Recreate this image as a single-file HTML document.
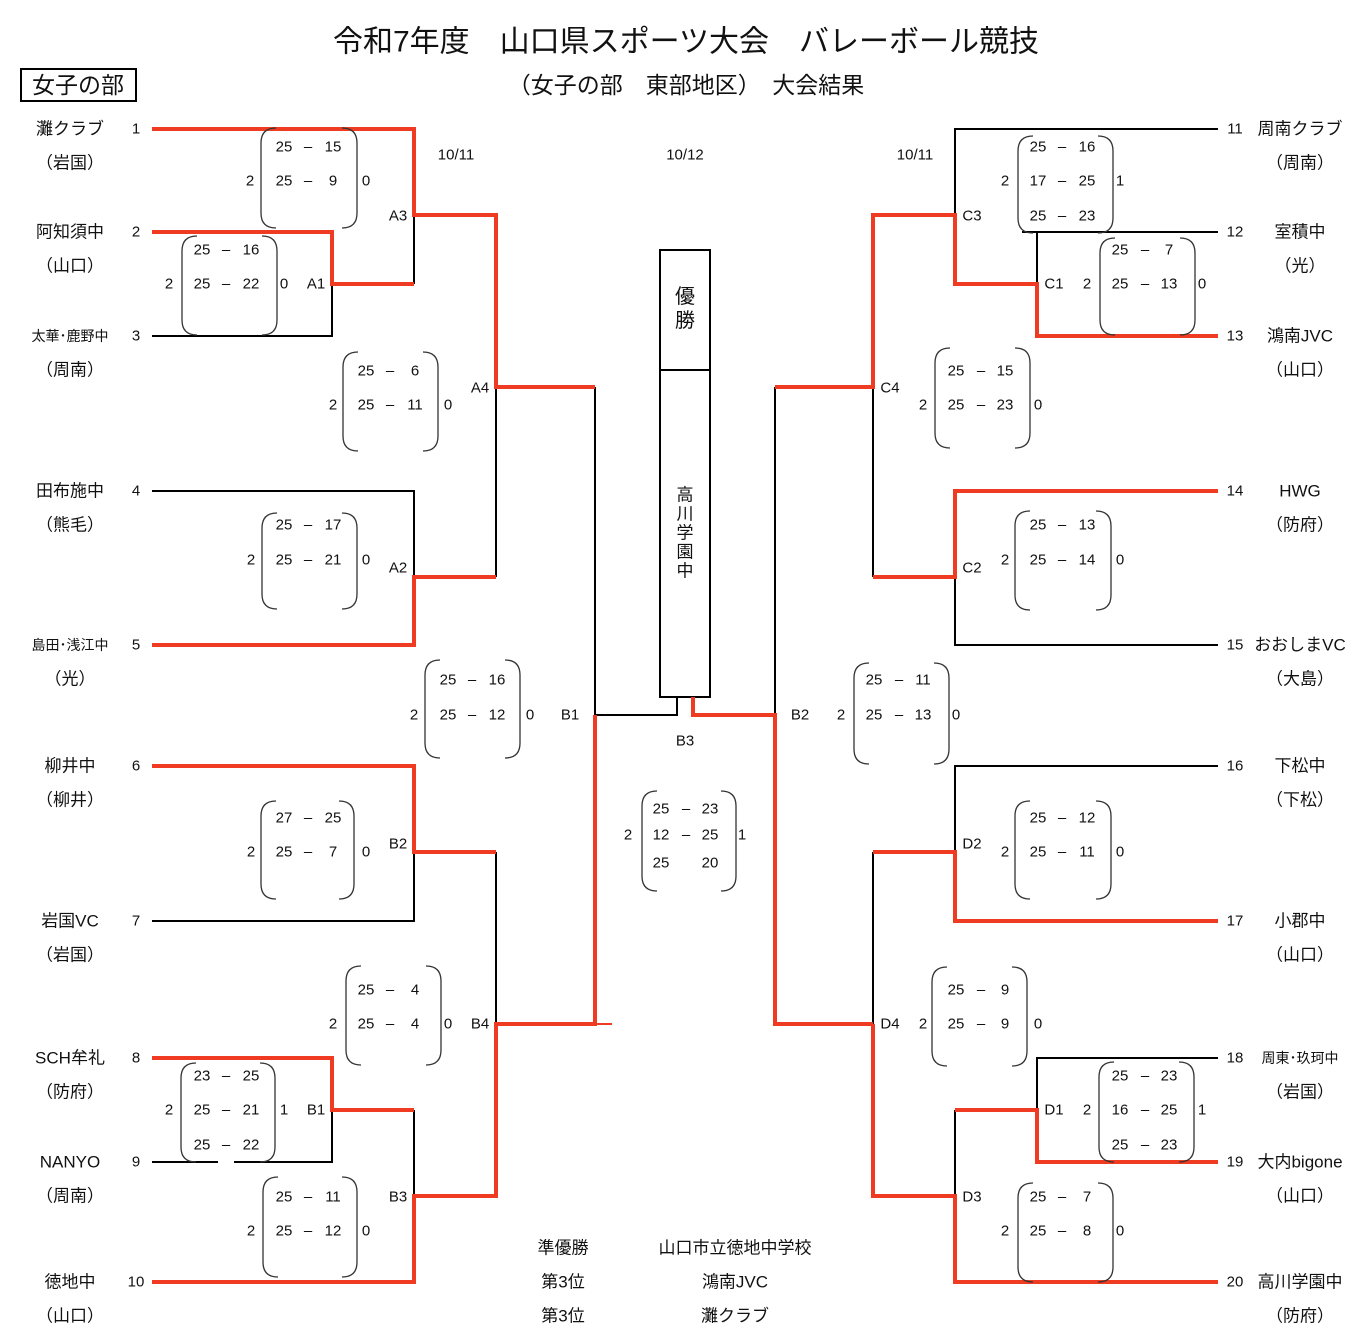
<!DOCTYPE html>
<html><head><meta charset="utf-8"><style>
body{margin:0;background:#fff}
svg{display:block}
text{font-family:"Liberation Sans","Noto Sans CJK JP",sans-serif;fill:#111;dominant-baseline:central;text-anchor:middle}
.s{font-size:15px}
.n{font-size:17px}
.r{fill:none;stroke:#ee3b22;stroke-width:4}
.b{fill:none;stroke:#000;stroke-width:2}
.p{fill:none;stroke:#333;stroke-width:1.3}
</style></head><body>
<svg width="1372" height="1341" viewBox="0 0 1372 1341" xmlns="http://www.w3.org/2000/svg">
<text x="686" y="42" style="font-size:30px">令和7年度　山口県スポーツ大会　バレーボール競技</text>
<text x="686" y="85" style="font-size:23px">（女子の部　東部地区）　大会結果</text>
<rect x="21" y="69" width="115" height="32" fill="none" stroke="#000" stroke-width="2"/>
<text x="78" y="85" style="font-size:23px">女子の部</text>
<text x="456" y="155" class="s">10/11</text>
<text x="685" y="155" class="s">10/12</text>
<text x="915" y="155" class="s">10/11</text>

<!-- left teams -->
<g class="n">
<text x="70" y="129">灘クラブ</text><text x="70" y="163">（岩国）</text><text x="136" y="129" class="s">1</text>
<text x="70" y="232">阿知須中</text><text x="70" y="266">（山口）</text><text x="136" y="232" class="s">2</text>
<text x="70" y="336" style="font-size:14px">太華･鹿野中</text><text x="70" y="370">（周南）</text><text x="136" y="336" class="s">3</text>
<text x="70" y="491">田布施中</text><text x="70" y="525">（熊毛）</text><text x="136" y="491" class="s">4</text>
<text x="70" y="645" style="font-size:14px">島田･浅江中</text><text x="70" y="679">（光）</text><text x="136" y="645" class="s">5</text>
<text x="70" y="766">柳井中</text><text x="70" y="800">（柳井）</text><text x="136" y="766" class="s">6</text>
<text x="70" y="921">岩国VC</text><text x="70" y="955">（岩国）</text><text x="136" y="921" class="s">7</text>
<text x="70" y="1058">SCH牟礼</text><text x="70" y="1092">（防府）</text><text x="136" y="1058" class="s">8</text>
<text x="70" y="1162">NANYO</text><text x="70" y="1196">（周南）</text><text x="136" y="1162" class="s">9</text>
<text x="70" y="1282">徳地中</text><text x="70" y="1316">（山口）</text><text x="136" y="1282" class="s">10</text>
</g>
<!-- right teams -->
<g class="n">
<text x="1235" y="129" class="s">11</text><text x="1300" y="129">周南クラブ</text><text x="1300" y="163">（周南）</text>
<text x="1235" y="232" class="s">12</text><text x="1300" y="232">室積中</text><text x="1300" y="266">（光）</text>
<text x="1235" y="336" class="s">13</text><text x="1300" y="336">鴻南JVC</text><text x="1300" y="370">（山口）</text>
<text x="1235" y="491" class="s">14</text><text x="1300" y="491">HWG</text><text x="1300" y="525">（防府）</text>
<text x="1235" y="645" class="s">15</text><text x="1300" y="645">おおしまVC</text><text x="1300" y="679">（大島）</text>
<text x="1235" y="766" class="s">16</text><text x="1300" y="766">下松中</text><text x="1300" y="800">（下松）</text>
<text x="1235" y="921" class="s">17</text><text x="1300" y="921">小郡中</text><text x="1300" y="955">（山口）</text>
<text x="1235" y="1058" class="s">18</text><text x="1300" y="1058" style="font-size:14px">周東･玖珂中</text><text x="1300" y="1092">（岩国）</text>
<text x="1235" y="1162" class="s">19</text><text x="1300" y="1162">大内bigone</text><text x="1300" y="1196">（山口）</text>
<text x="1235" y="1282" class="s">20</text><text x="1300" y="1282">高川学園中</text><text x="1300" y="1316">（防府）</text>
</g>

<!-- black lines -->
<g class="b">
<path d="M414 215V284"/>
<path d="M152 336H332V284"/>
<path d="M152 491H414V577"/>
<path d="M496 387V577"/>
<path d="M595 387V715H677V697"/>
<path d="M152 921H414V852"/>
<path d="M496 852V1024"/>
<path d="M152 1162H218M234 1162H332V1110"/>
<path d="M414 1110V1196"/>
<path d="M775 715V387"/>
<path d="M955 215V129H1218"/>
<path d="M1022 232H1218"/>
<path d="M1037 232V284"/>
<path d="M873 387V577"/>
<path d="M955 577V645H1218"/>
<path d="M1218 766H955V852"/>
<path d="M873 852V1024"/>
<path d="M955 1196V1110"/>
<path d="M1037 1110V1058H1218"/>
<rect x="660" y="250" width="50" height="447"/>
<path d="M660 370H710"/>
<path d="M595 1024H612" style="stroke:#ee3b22"/>
</g>
<!-- red lines -->
<g class="r">
<path d="M152 129H414V215H496V387H595"/>
<path d="M152 232H332V284H414"/>
<path d="M152 645H414V577H496"/>
<path d="M152 766H414V852H496"/>
<path d="M152 1058H332V1110H414"/>
<path d="M152 1282H414V1196H496V1024H595V715"/>
<path d="M693 697V715H775V1024H873"/>
<path d="M775 387H873V215H955V284H1037V336H1218"/>
<path d="M873 577H955V491H1218"/>
<path d="M873 852H955V921H1218"/>
<path d="M873 1024V1196H955V1282H1218"/>
<path d="M955 1110H1037V1162H1218"/>
</g>

<!-- champion -->
<text x="685" y="297" style="font-size:20px">優</text>
<text x="685" y="321" style="font-size:20px">勝</text>
<g class="n">
<text x="685" y="495">高</text><text x="685" y="514">川</text><text x="685" y="533">学</text><text x="685" y="552">園</text><text x="685" y="571">中</text>
</g>

<!-- match labels -->
<g class="s">
<text x="398" y="216">A3</text><text x="316" y="284">A1</text><text x="480" y="388">A4</text><text x="398" y="568">A2</text>
<text x="570" y="715">B1</text><text x="398" y="844">B2</text><text x="480" y="1024">B4</text><text x="316" y="1110">B1</text><text x="398" y="1197">B3</text>
<text x="972" y="216">C3</text><text x="1054" y="284">C1</text><text x="890" y="388">C4</text><text x="972" y="568">C2</text>
<text x="800" y="715">B2</text><text x="972" y="844">D2</text><text x="890" y="1024">D4</text><text x="1054" y="1110">D1</text><text x="972" y="1197">D3</text>
<text x="685" y="741">B3</text>
</g>

<!-- parens -->
<g class="p">
<path d="M276 128Q261 128 261 143V213Q261 228 276 228M342 128Q357 128 357 143V213Q357 228 342 228"/>
<path d="M197 236Q182 236 182 251V320Q182 335 197 335M262 236Q277 236 277 251V320Q277 335 262 335"/>
<path d="M358 352Q343 352 343 367V436Q343 451 358 451M423 352Q438 352 438 367V436Q438 451 423 451"/>
<path d="M277 513Q262 513 262 528V594Q262 609 277 609M342 513Q357 513 357 528V594Q357 609 342 609"/>
<path d="M440 660Q425 660 425 675V743Q425 758 440 758M505 660Q520 660 520 675V743Q520 758 505 758"/>
<path d="M276 801Q261 801 261 816V884Q261 899 276 899M339 801Q354 801 354 816V884Q354 899 339 899"/>
<path d="M361 966Q346 966 346 981V1050Q346 1065 361 1065M426 966Q441 966 441 981V1050Q441 1065 426 1065"/>
<path d="M196 1063Q181 1063 181 1078V1147Q181 1162 196 1162M260 1063Q275 1063 275 1078V1147Q275 1162 260 1162"/>
<path d="M278 1177Q263 1177 263 1192V1262Q263 1277 278 1277M342 1177Q357 1177 357 1192V1262Q357 1277 342 1277"/>
<path d="M657 791Q642 791 642 806V876Q642 891 657 891M721 791Q736 791 736 806V876Q736 891 721 891"/>
<path d="M1033 136Q1018 136 1018 151V218Q1018 233 1033 233M1098 136Q1113 136 1113 151V218Q1113 233 1098 233"/>
<path d="M1115 238Q1100 238 1100 253V320Q1100 335 1115 335M1180 238Q1195 238 1195 253V320Q1195 335 1180 335"/>
<path d="M950 348Q935 348 935 363V433Q935 448 950 448M1015 348Q1030 348 1030 363V433Q1030 448 1015 448"/>
<path d="M1030 511Q1015 511 1015 526V595Q1015 610 1030 610M1096 511Q1111 511 1111 526V595Q1111 610 1096 610"/>
<path d="M869 663Q854 663 854 678V749Q854 764 869 764M934 663Q949 663 949 678V749Q949 764 934 764"/>
<path d="M1030 801Q1015 801 1015 816V884Q1015 899 1030 899M1096 801Q1111 801 1111 816V884Q1111 899 1096 899"/>
<path d="M947 967Q932 967 932 982V1051Q932 1066 947 1066M1012 967Q1027 967 1027 982V1051Q1027 1066 1012 1066"/>
<path d="M1114 1062Q1099 1062 1099 1077V1147Q1099 1162 1114 1162M1179 1062Q1194 1062 1194 1077V1147Q1194 1162 1179 1162"/>
<path d="M1033 1183Q1018 1183 1018 1198V1267Q1018 1282 1033 1282M1098 1183Q1113 1183 1113 1198V1267Q1113 1282 1098 1282"/>
</g>

<!-- scores -->
<g class="s">
<text x="284" y="147">25</text><text x="308" y="147">–</text><text x="333" y="147">15</text>
<text x="284" y="181">25</text><text x="308" y="181">–</text><text x="333" y="181">9</text><text x="250" y="181">2</text><text x="366" y="181">0</text>

<text x="202" y="250">25</text><text x="226" y="250">–</text><text x="251" y="250">16</text>
<text x="202" y="284">25</text><text x="226" y="284">–</text><text x="251" y="284">22</text><text x="169" y="284">2</text><text x="284" y="284">0</text>

<text x="366" y="371">25</text><text x="390" y="371">–</text><text x="415" y="371">6</text>
<text x="366" y="405">25</text><text x="390" y="405">–</text><text x="415" y="405">11</text><text x="333" y="405">2</text><text x="448" y="405">0</text>

<text x="284" y="525">25</text><text x="308" y="525">–</text><text x="333" y="525">17</text>
<text x="284" y="560">25</text><text x="308" y="560">–</text><text x="333" y="560">21</text><text x="251" y="560">2</text><text x="366" y="560">0</text>

<text x="448" y="680">25</text><text x="472" y="680">–</text><text x="497" y="680">16</text>
<text x="448" y="715">25</text><text x="472" y="715">–</text><text x="497" y="715">12</text><text x="414" y="715">2</text><text x="530" y="715">0</text>

<text x="284" y="818">27</text><text x="308" y="818">–</text><text x="333" y="818">25</text>
<text x="284" y="852">25</text><text x="308" y="852">–</text><text x="333" y="852">7</text><text x="251" y="852">2</text><text x="366" y="852">0</text>

<text x="366" y="990">25</text><text x="390" y="990">–</text><text x="415" y="990">4</text>
<text x="366" y="1024">25</text><text x="390" y="1024">–</text><text x="415" y="1024">4</text><text x="333" y="1024">2</text><text x="448" y="1024">0</text>

<text x="202" y="1076">23</text><text x="226" y="1076">–</text><text x="251" y="1076">25</text>
<text x="202" y="1110">25</text><text x="226" y="1110">–</text><text x="251" y="1110">21</text><text x="169" y="1110">2</text><text x="284" y="1110">1</text>
<text x="202" y="1145">25</text><text x="226" y="1145">–</text><text x="251" y="1145">22</text>

<text x="284" y="1197">25</text><text x="308" y="1197">–</text><text x="333" y="1197">11</text>
<text x="284" y="1231">25</text><text x="308" y="1231">–</text><text x="333" y="1231">12</text><text x="251" y="1231">2</text><text x="366" y="1231">0</text>

<text x="661" y="809">25</text><text x="686" y="809">–</text><text x="710" y="809">23</text>
<text x="661" y="835">12</text><text x="686" y="835">–</text><text x="710" y="835">25</text><text x="628" y="835">2</text><text x="742" y="835">1</text>
<text x="661" y="863">25</text><text x="710" y="863">20</text>

<text x="1038" y="147">25</text><text x="1062" y="147">–</text><text x="1087" y="147">16</text>
<text x="1038" y="181">17</text><text x="1062" y="181">–</text><text x="1087" y="181">25</text><text x="1005" y="181">2</text><text x="1120" y="181">1</text>
<text x="1038" y="216">25</text><text x="1062" y="216">–</text><text x="1087" y="216">23</text>

<text x="1120" y="250">25</text><text x="1145" y="250">–</text><text x="1169" y="250">7</text>
<text x="1120" y="284">25</text><text x="1145" y="284">–</text><text x="1169" y="284">13</text><text x="1087" y="284">2</text><text x="1202" y="284">0</text>

<text x="956" y="371">25</text><text x="981" y="371">–</text><text x="1005" y="371">15</text>
<text x="956" y="405">25</text><text x="981" y="405">–</text><text x="1005" y="405">23</text><text x="923" y="405">2</text><text x="1038" y="405">0</text>

<text x="1038" y="525">25</text><text x="1062" y="525">–</text><text x="1087" y="525">13</text>
<text x="1038" y="560">25</text><text x="1062" y="560">–</text><text x="1087" y="560">14</text><text x="1005" y="560">2</text><text x="1120" y="560">0</text>

<text x="874" y="680">25</text><text x="899" y="680">–</text><text x="923" y="680">11</text>
<text x="874" y="715">25</text><text x="899" y="715">–</text><text x="923" y="715">13</text><text x="841" y="715">2</text><text x="956" y="715">0</text>

<text x="1038" y="818">25</text><text x="1062" y="818">–</text><text x="1087" y="818">12</text>
<text x="1038" y="852">25</text><text x="1062" y="852">–</text><text x="1087" y="852">11</text><text x="1005" y="852">2</text><text x="1120" y="852">0</text>

<text x="956" y="990">25</text><text x="981" y="990">–</text><text x="1005" y="990">9</text>
<text x="956" y="1024">25</text><text x="981" y="1024">–</text><text x="1005" y="1024">9</text><text x="923" y="1024">2</text><text x="1038" y="1024">0</text>

<text x="1120" y="1076">25</text><text x="1145" y="1076">–</text><text x="1169" y="1076">23</text>
<text x="1120" y="1110">16</text><text x="1145" y="1110">–</text><text x="1169" y="1110">25</text><text x="1087" y="1110">2</text><text x="1202" y="1110">1</text>
<text x="1120" y="1145">25</text><text x="1145" y="1145">–</text><text x="1169" y="1145">23</text>

<text x="1038" y="1197">25</text><text x="1062" y="1197">–</text><text x="1087" y="1197">7</text>
<text x="1038" y="1231">25</text><text x="1062" y="1231">–</text><text x="1087" y="1231">8</text><text x="1005" y="1231">2</text><text x="1120" y="1231">0</text>
</g>

<!-- results -->
<g class="n">
<text x="563" y="1248">準優勝</text><text x="735" y="1248">山口市立徳地中学校</text>
<text x="563" y="1282">第3位</text><text x="735" y="1282">鴻南JVC</text>
<text x="563" y="1316">第3位</text><text x="735" y="1316">灘クラブ</text>
</g>
</svg>
</body></html>
